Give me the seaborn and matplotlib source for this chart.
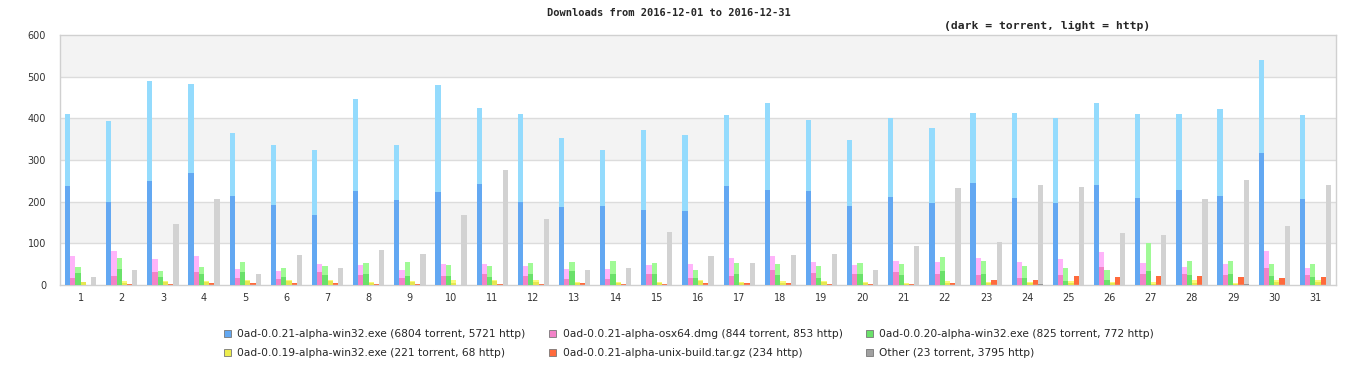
"""Daily downloads per file

Stacked torrent / http bars per day, grouped by file.
"""
import pandas as pd
import seaborn as sns
import matplotlib.pyplot as plt
from matplotlib.patches import Patch

# Days of the month
days = [str(d) for d in range(1, 32)]

# Series names (legend labels)
series = [
    '0ad-0.0.21-alpha-win32.exe (6804 torrent, 5721 http)',
    '0ad-0.0.21-alpha-osx64.dmg (844 torrent, 853 http)',
    '0ad-0.0.20-alpha-win32.exe (825 torrent, 772 http)',
    '0ad-0.0.19-alpha-win32.exe (221 torrent, 68 http)',
    '0ad-0.0.21-alpha-unix-build.tar.gz (234 http)',
    'Other (23 torrent, 3795 http)',
]

# Totals (torrent + http) per day
win21_total = [410, 393, 489, 482, 366, 335, 325, 446, 335, 479, 426, 410, 352, 325, 371, 361,
               407, 436, 395, 349, 402, 378, 414, 412, 402, 436, 410, 410, 422, 540, 407]
osx21_total = [70, 82, 63, 70, 39, 34, 51, 48, 36, 51, 51, 46, 39, 39, 48, 51,
               65, 70, 55, 48, 58, 55, 65, 55, 63, 79, 53, 43, 51, 82, 41]
win20_total = [43, 65, 34, 43, 55, 41, 46, 53, 55, 48, 46, 53, 55, 58, 53, 36,
               53, 51, 46, 53, 51, 67, 58, 46, 41, 36, 101, 58, 58, 51, 51]
win19_total = [7, 10, 10, 10, 12, 12, 12, 7, 10, 12, 12, 12, 7, 7, 7, 12,
               7, 10, 10, 7, 5, 10, 7, 7, 10, 7, 7, 12, 5, 12, 12]
unix21_total = [0, 2, 2, 5, 5, 5, 5, 2, 2, 0, 2, 2, 5, 2, 2, 5,
                5, 5, 2, 2, 2, 5, 12, 12, 22, 19, 22, 22, 19, 17, 19]
other_total = [19, 36, 147, 207, 26, 72, 41, 84, 75, 169, 277, 159, 36, 41, 128, 70,
               53, 72, 75, 36, 94, 234, 104, 241, 236, 125, 120, 207, 251, 142, 241]

# Torrent part per day
win21_torrent = [237, 200, 250, 270, 214, 193, 169, 226, 205, 224, 243, 200, 188, 190, 181, 178,
                 238, 229, 226, 190, 212, 198, 246, 210, 198, 241, 210, 229, 214, 316, 207]
osx21_torrent = [17, 22, 31, 31, 17, 14, 31, 24, 17, 22, 26, 22, 14, 14, 26, 17,
                 22, 36, 29, 26, 31, 26, 24, 17, 24, 43, 26, 26, 24, 41, 24]
win20_torrent = [29, 39, 19, 26, 31, 19, 24, 26, 22, 22, 19, 26, 34, 26, 26, 17,
                 26, 24, 17, 26, 24, 34, 26, 17, 10, 12, 34, 24, 26, 22, 19]
win19_torrent = [7, 5, 8, 8, 10, 10, 10, 5, 7, 5, 10, 8, 5, 5, 5, 10,
                 5, 5, 8, 5, 3, 5, 5, 5, 5, 5, 3, 5, 3, 8, 8]
unix21_torrent = [0] * 31
other_torrent = [0, 1, 1, 1, 0, 1, 0, 1, 0, 1, 1, 1, 0, 0, 1, 0,
                 0, 1, 1, 0, 1, 1, 1, 3, 1, 0, 1, 1, 3, 0, 1]

light_colors = ['#94DBFD', '#FFB4FA', '#A0FA96', '#FAFA7A', '#FF6A3C', '#D2D2D2']
dark_colors = ['#63A8F2', '#F282C8', '#6AE16A', '#E6E650', '#FF6A3C', '#969696']
legend_colors = ['#63A8F2', '#F282C8', '#6AE16A', '#EDED4E', '#FF6A3C', '#A0A0A0']


def build_frame() -> pd.DataFrame:
    """Build the long data frame used by seaborn."""
    totals = [win21_total, osx21_total, win20_total, win19_total, unix21_total, other_total]
    torrents = [win21_torrent, osx21_torrent, win20_torrent, win19_torrent, unix21_torrent, other_torrent]
    rows = []
    for name, tot, tor in zip(series, totals, torrents):
        for day, t, r in zip(days, tot, tor):
            rows.append({'day': day, 'series': name, 'total': t, 'torrent': r})
    return pd.DataFrame(rows)


def plot(df: pd.DataFrame) -> None:
    sns.set_style('white')
    plt.rcParams['font.family'] = ['DejaVu Sans']

    fig = plt.figure(figsize=(13.66, 3.8), dpi=100)
    ax = fig.add_axes([60 / 1366, 1 - 285 / 380, 1276 / 1366, 250 / 380])

    # alternating background bands and grid
    for lo in (100, 300, 500):
        ax.axhspan(lo, lo + 100, color='#F3F3F3', zorder=0, lw=0)
    for y in range(100, 600, 100):
        ax.axhline(y, color='#DCDCDC', lw=1, zorder=0.5)

    # light = total (http on top), dark = torrent
    sns.barplot(data=df, x='day', y='total', hue='series', order=days, hue_order=series,
                palette=light_colors, saturation=1, width=0.76, dodge=True,
                linewidth=0, legend=False, errorbar=None, ax=ax, zorder=2)
    sns.barplot(data=df, x='day', y='torrent', hue='series', order=days, hue_order=series,
                palette=dark_colors, saturation=1, width=0.76, dodge=True,
                linewidth=0, legend=False, errorbar=None, ax=ax, zorder=3)

    ax.set_xlim(-0.5, 30.5)
    ax.set_ylim(0, 600)
    ax.set_yticks(range(0, 601, 100))
    ax.set_xlabel('')
    ax.set_ylabel('')
    ax.tick_params(axis='both', length=0, labelsize=7, colors='#333333')
    ax.tick_params(axis='y', pad=10)
    ax.tick_params(axis='x', pad=6)
    for s in ax.spines.values():
        s.set_color('#D0D0D0')
        s.set_linewidth(1)

    fig.text(669 / 1366, 1 - 13 / 380, 'Downloads from 2016-12-01 to 2016-12-31',
             ha='center', va='center', family='DejaVu Sans Mono', weight='bold', fontsize=7.5)
    fig.text(1047 / 1366, 1 - 26 / 380, '(dark = torrent, light = http)',
             ha='center', va='center', family='DejaVu Sans Mono', weight='bold', fontsize=8.2)

    # legend: matplotlib fills columns first, so reorder for row layout
    order = [0, 3, 1, 4, 2, 5]
    handles = [Patch(facecolor=legend_colors[i], edgecolor='#777777', linewidth=0.6) for i in order]
    labels = [series[i] for i in order]
    fig.legend(handles, labels, ncol=3, loc='upper left',
               bbox_to_anchor=(224 / 1366, 1 - 329 / 380), frameon=False,
               fontsize=7.7, handlelength=0.65, handleheight=0.65, handletextpad=0.6,
               columnspacing=2.2, labelspacing=0.85, borderaxespad=0, borderpad=0)

    fig.savefig('out.png', dpi=100)


if __name__ == '__main__':
    plot(build_frame())
